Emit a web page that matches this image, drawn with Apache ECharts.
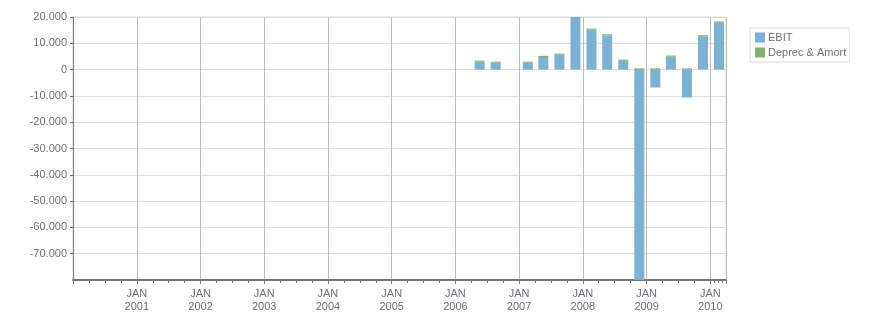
<!DOCTYPE html>
<html>
<head>
<meta charset="utf-8">
<script src="https://cdn.jsdelivr.net/npm/echarts@6/dist/echarts.min.js"></script>
<style>html,body{margin:0;padding:0;background:#fff}#c{width:876px;height:313px}</style>
</head>
<body>
<div id="c"></div>
<script>
var periods = ['2006-05-20','2006-08-20','2007-02-20','2007-05-20','2007-08-20','2007-11-20','2008-02-20','2008-05-20','2008-08-20','2008-11-20','2009-02-20','2009-05-20','2009-08-20','2009-11-20','2010-02-20'];
var ebit = [3050, 2600, 2600, 4800, 5650, 20500, 15150, 13000, 3350, -80000, -6800, 4900, -10600, 12600, 17800];
var deprec = [400, 400, 400, 420, 430, 450, 440, 430, 450, 500, 480, 450, 470, 480, 500];
var seriesNames = ['EBIT', 'Deprec & Amort'];
var xMin = '2000-01-01', xMax = '2010-04-01';
var yMin = -80000, yMax = 20000, yStep = 10000;

var W = 876, gridLeft = 73, gridRight = 150, barW = 10;
var font = 'Liberation Sans';
var labelColor = '#6e6e7c';
function fmtNum(v){
  var s = Math.abs(v).toString().replace(/\B(?=(\d{3})+(?!\d))/g, '.');
  return (v < 0 ? '-' : '') + s;
}
function pairs(vals){ return periods.map(function(p,i){ return [p, vals[i]]; }); }
var minYear = new Date(xMin).getFullYear();

// ECharts pads a time axis carrying bars by half a bar width on each side;
// pre-shrink the range so the padded extent equals [xMin, xMax].
var t0 = +new Date(xMin), t1 = +new Date(xMax);
var axisLen = W - gridLeft - gridRight;
var pad = (t1 - t0) * (barW / 2) / axisLen;

var chart = echarts.init(document.getElementById('c'), null, {renderer:'canvas'});
chart.setOption({
  animation: false,
  grid: {left: gridLeft, right: gridRight, top: 17, bottom: 33, containLabel: false,
         show: true, borderColor: '#dddddd', borderWidth: 1},
  legend: {
    orient: 'vertical', left: 750, top: 28,
    borderColor: '#dddddd', borderWidth: 1, padding: [4, 3, 4, 5],
    itemWidth: 10, itemHeight: 10, itemGap: 4, icon: 'rect',
    textStyle: {fontFamily: font, fontSize: 11, color: labelColor, padding: [0,0,0,-2]},
    data: seriesNames
  },
  xAxis: {
    type: 'time', min: t0 + pad, max: t1 - pad,
    splitNumber: 10,
    minInterval: 365*24*3600*1000, maxInterval: 366*24*3600*1000,
    axisLine: {show: true, onZero: false, lineStyle: {color: '#777777', width: 2}},
    axisTick: {show: true, length: 4, lineStyle: {color: '#777777'}},
    minorTick: {show: true, splitNumber: 4, length: 3, lineStyle: {color: '#777777'}},
    splitLine: {show: true, lineStyle: {color: '#bbbbbb', width: 1}},
    axisLabel: {
      showMinLabel: false, showMaxLabel: false,
      fontFamily: font, fontSize: 11, color: labelColor, lineHeight: 13, margin: 7,
      formatter: function(v){ var d = new Date(v); var y = d.getFullYear(); return y <= minYear ? '' : 'JAN\n' + y; }
    }
  },
  yAxis: {
    type: 'value', min: yMin, max: yMax, interval: yStep,
    axisLine: {show: true, lineStyle: {color: '#777777', width: 1}},
    axisTick: {show: true, length: 3, lineStyle: {color: '#777777'}},
    splitLine: {show: true, lineStyle: {color: '#dddddd'}},
    axisLabel: {showMinLabel: false, fontFamily: font, fontSize: 11, color: labelColor, margin: 6, formatter: fmtNum}
  },
  series: [
    {name: seriesNames[0], type: 'bar', stack: 's', barWidth: barW, itemStyle: {color: '#79b2d4'}, data: pairs(ebit)},
    {name: seriesNames[1], type: 'bar', stack: 's', barWidth: barW, itemStyle: {color: '#84b26a'}, data: pairs(deprec)}
  ]
});
</script>
</body>
</html>
